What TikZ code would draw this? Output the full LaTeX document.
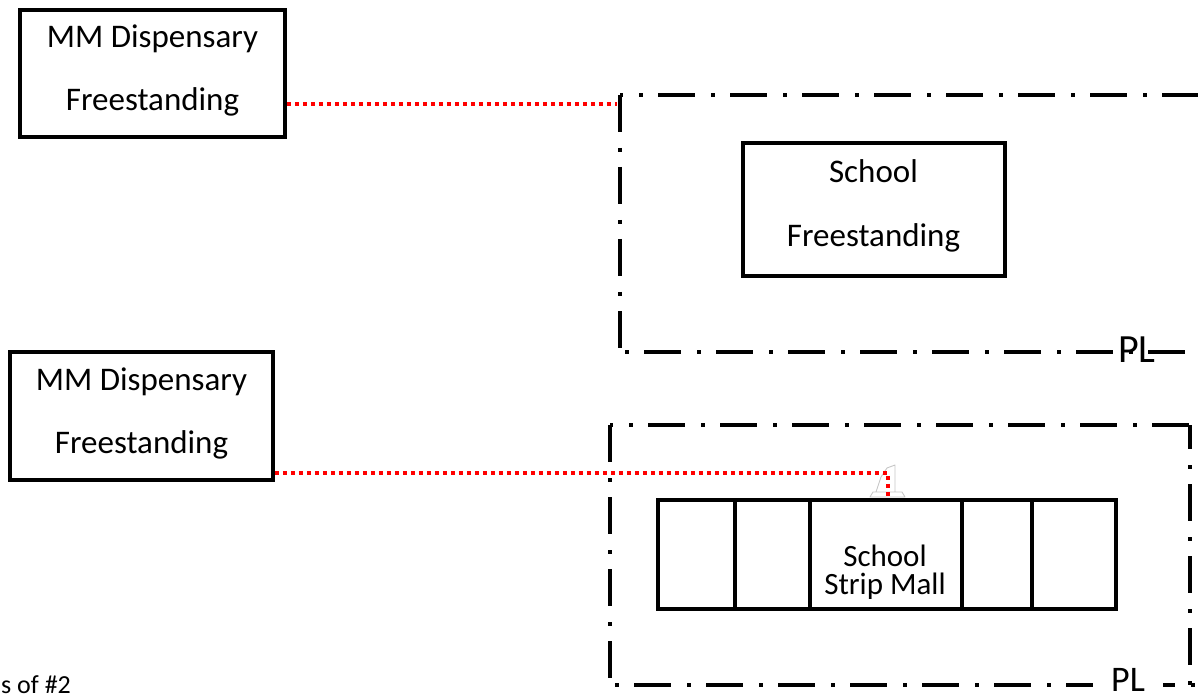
\documentclass[tikz,border=0pt]{standalone}
\usepackage{fontspec}
\setmainfont{Carlito}
\begin{document}
\begin{tikzpicture}[x=1pt,y=-1pt,
  box/.style={draw=black, line width=3.6pt, inner sep=0pt, fill=white},
  txt/.style={font=\fontsize{33}{38}\selectfont, inner sep=0pt, anchor=base},
  pl/.style={draw=black, line width=4pt, dash pattern=on 37pt off 16pt on 4pt off 15pt},
  reddot/.style={draw=red, line width=4pt, dash pattern=on 4pt off 4pt},
  pllabel/.style={font=\fontsize{40}{44}\selectfont, anchor=base}]
\useasboundingbox (0,0) rectangle (1198,700);
\clip (0,0) rectangle (1198,700);

% property line 1 (open on the right)
\coordinate (a1) at (620,95);
\coordinate (a2) at (620,352);
\draw[pl, dash phase=34pt] (a1) -- (1200,95);
\draw[pl] (a1) -- (a2);
\draw[pl, dash phase=48pt] (a2) -- (1186,352);
\node[pllabel, inner sep=0pt] (pl1) at (1137,362) {PL};

% property line 2
\coordinate (b1) at (610,425);
\coordinate (b2) at (1190,425);
\coordinate (b3) at (1190,685);
\coordinate (b4) at (610,685);
\draw[pl, dash phase=34pt] (b1) -- (b2);
\draw[pl, dash phase=13pt] (b2) -- (b3);
\draw[pl] (b1) -- (b4);
\draw[pl, dash phase=48pt] (b4) -- (1195,685);
\node[pllabel, fill=white, inner xsep=18pt, inner ysep=0pt, font=\fontsize{36}{40}\selectfont] (pl2) at (1128,691) {PL};

% boxes
\node[box, minimum width=265pt, minimum height=127pt] (d1) at (152.5,73.5) {};
\node[txt] (d1a) at (152.5,48) {MM Dispensary};
\node[txt] (d1b) at (152.5,111) {Freestanding};

\node[box, minimum width=263pt, minimum height=128pt] (d2) at (141.5,416) {};
\node[txt] (d2a) at (141.5,390) {MM Dispensary};
\node[txt] (d2b) at (141.5,453) {Freestanding};

\node[box, minimum width=262pt, minimum height=133pt] (s1) at (874,209.5) {};
\node[txt] (s1a) at (873.5,183) {School};
\node[txt] (s1b) at (873.5,247) {Freestanding};

\node[box, minimum width=458pt, minimum height=109pt] (s2) at (887,554.5) {};
\draw[line width=3.6pt] (735,500) -- (735,609);
\draw[line width=3.6pt] (810,500) -- (810,609);
\draw[line width=3.6pt] (962,500) -- (962,609);
\draw[line width=3.6pt] (1032,500) -- (1032,609);
\node[font=\fontsize{31}{28}\selectfont, inner sep=0pt, align=center] (s2a) at (885,572) {School\\Strip Mall};

% gray marker glyph
\draw[gray!45, line width=0.9pt, line join=round]
  (895,492) -- (895,465) -- (887,468) -- (881,477) -- (876,492)
  (873,492) -- (902,492) -- (905,497) -- (870,497) -- cycle;

% red dotted connectors
\coordinate (c1) at (617,104);
\draw[reddot] (d1.east |- c1) -- (c1);
\coordinate (c2) at (888,473);
\draw[reddot] (d2.east |- c2) -- (c2) -- (c2 |- s2.north);

% caption at the lower edge
\node[txt, anchor=base west, font=\fontsize{26}{30}\selectfont] (cap) at (1,693) {s of \#2};
\end{tikzpicture}
\end{document}
